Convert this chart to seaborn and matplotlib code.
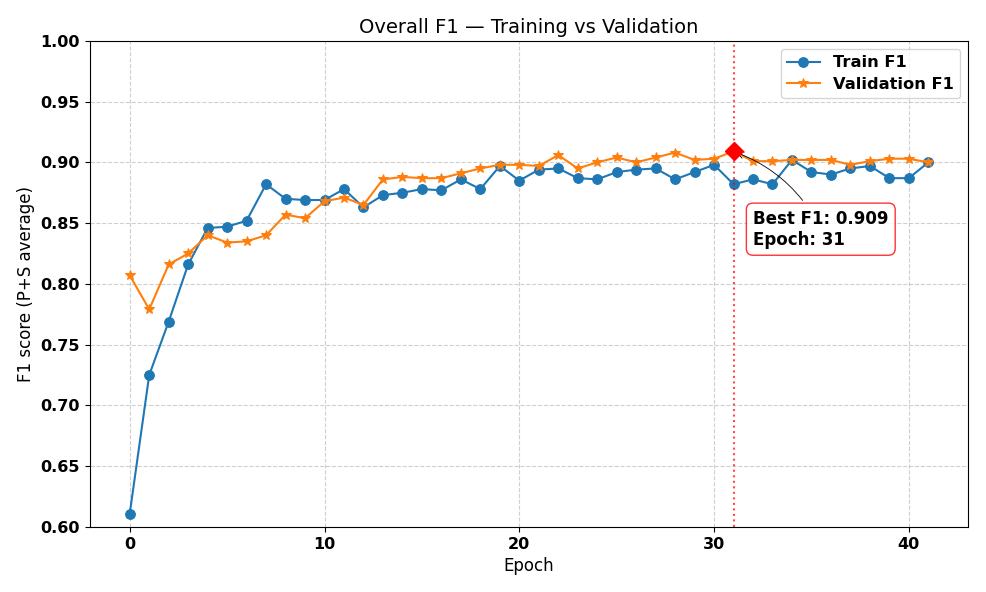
import matplotlib
matplotlib.use("Agg")
import matplotlib.pyplot as plt
import seaborn as sns
import numpy as np
import pandas as pd

plt.rcParams["font.family"] = ["DejaVu Sans"]

epochs = list(range(42))
train_f1 = [0.611, 0.725, 0.769, 0.816, 0.846, 0.847, 0.852, 0.882, 0.870, 0.869,
            0.869, 0.878, 0.863, 0.873, 0.875, 0.878, 0.877, 0.886, 0.878, 0.897,
            0.885, 0.894, 0.895, 0.887, 0.886, 0.892, 0.894, 0.895, 0.886, 0.892,
            0.898, 0.882, 0.886, 0.882, 0.902, 0.892, 0.890, 0.895, 0.897, 0.887,
            0.887, 0.900]
val_f1 = [0.807, 0.779, 0.816, 0.825, 0.840, 0.834, 0.835, 0.840, 0.857, 0.854,
          0.868, 0.871, 0.865, 0.886, 0.888, 0.887, 0.887, 0.891, 0.895, 0.898,
          0.898, 0.897, 0.906, 0.895, 0.900, 0.904, 0.900, 0.904, 0.908, 0.902,
          0.903, 0.909, 0.901, 0.901, 0.902, 0.902, 0.902, 0.898, 0.901, 0.903,
          0.903, 0.900]

df = pd.DataFrame({"Epoch": epochs, "Train F1": train_f1, "Validation F1": val_f1})

fig = plt.figure(figsize=(9.87, 5.92), dpi=100)
ax = fig.add_axes([0.091, 0.110, 0.890, 0.821])

sns.lineplot(data=df, x="Epoch", y="Train F1", ax=ax, color="#1f77b4", marker="o",
             markersize=7, markeredgecolor="#1f77b4", linewidth=1.5, label="Train F1")
sns.lineplot(data=df, x="Epoch", y="Validation F1", ax=ax, color="#ff7f0e", marker="*",
             markersize=7, markeredgecolor="#ff7f0e", linewidth=1.5, label="Validation F1")

best_idx = int(np.argmax(val_f1))
best_val = val_f1[best_idx]
best_ep = epochs[best_idx]
ax.axvline(best_ep, color="red", linestyle=":", linewidth=1.5, alpha=0.7)
ax.plot([best_ep], [best_val], marker="D", color="red", markersize=9, linestyle="none", zorder=5)
ax.annotate(f"Best F1: {best_val:.3f}\nEpoch: {best_ep}",
            xy=(best_ep, best_val), xytext=(best_ep + 1, best_val - 0.064),
            fontsize=12, fontweight="bold", va="center", ha="left",
            bbox=dict(boxstyle="round,pad=0.4", fc="white", ec="red", alpha=0.8),
            arrowprops=dict(arrowstyle="->", connectionstyle="arc3,rad=0.2", color="black", lw=0.6))

ax.set_ylim(0.6, 1.0)
ax.set_title("Overall F1 — Training vs Validation", fontsize=14)
ax.set_xlabel("Epoch", fontsize=12)
ax.set_ylabel("F1 score (P+S average)", fontsize=12)
ax.grid(True, linestyle="--", alpha=0.6)
ax.tick_params(labelsize=11.5)
for lbl in ax.get_xticklabels() + ax.get_yticklabels():
    lbl.set_fontweight("bold")
leg = ax.legend(loc="upper right", prop={"weight": "bold", "size": 11.7}, labelspacing=0.4)

fig.savefig("out.png", dpi=100)
